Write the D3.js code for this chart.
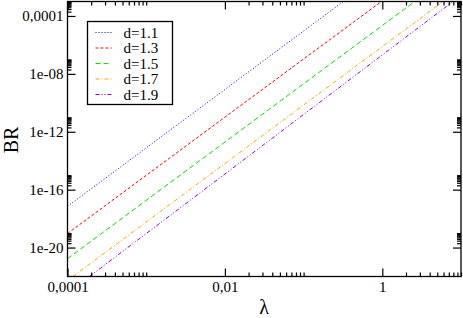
<!DOCTYPE html>
<meta charset="utf-8">
<style>
    body { margin: 0; background: #fff; }
    text { font-family: "Liberation Serif", "DejaVu Serif", serif; fill: #000; }
    .axis path { display: none; }
    .axis line { stroke: #000; stroke-width: 1.2; }
    .axis text { font-size: 15px; }
    path.series { fill: none; stroke-width: 1; }
</style>
<body>
<script src="https://cdn.jsdelivr.net/npm/d3@7"></script>
<script>

    // series names and styles
    var labels = ["d=1.1", "d=1.3", "d=1.5", "d=1.7", "d=1.9"];
    var colors = ["#0000ff", "#ff0000", "#00e600", "#ffa500", "#9400d3"];
    var dashes = ["1,2", "3,2", "5,3", "4,2,1,2", "4,2,1,2,1,2"];

    // each series is a straight line in log-log: two points [lambda, BR]
    var d11 = [[1e-4, 7e-18], [0.32, 1e-3]];
    var d13 = [[1e-4, 9.3e-20], [0.975, 1e-3]];
    var d15 = [[1e-4, 1.7e-21], [2.58, 1e-3]];
    var d17 = [[1.17e-4, 1e-22], [5.9, 1e-3]];
    var d19 = [[1.9e-4, 1e-22], [7.9, 1e-3]];
    var series = [d11, d13, d15, d17, d19];

    // ticks
    var xMajor = [1e-4, 1e-2, 1];
    var xLabels = ["0,0001", "0,01", "1"];
    var yMajor = [1e-20, 1e-16, 1e-12, 1e-8, 1e-4];
    var yLabels = ["1e-20", "1e-16", "1e-12", "1e-08", "0,0001"];

    var W = 463, H = 318;
    var margin = {top: 1.5, right: 2, bottom: 41.5, left: 67.5},
        width = W - margin.left - margin.right,
        height = H - margin.top - margin.bottom;

    var x = d3.scaleLog().domain([1e-4, 10]).range([0, width]);
    var y = d3.scaleLog().domain([1e-22, 1e-3]).range([height, 0]);

    function minors(major) {
        var out = [];
        major.forEach(function(v) {
            for (var m = 2; m <= 10; m++) out.push(v * m);
        });
        return out;
    }

    var svg = d3.select("body").append("svg")
        .attr("width", W)
        .attr("height", H);

    var g = svg.append("g")
        .attr("transform", "translate(" + margin.left + "," + margin.top + ")");

    g.append("clipPath").attr("id", "clip")
        .append("rect").attr("width", width).attr("height", height);

    var line = d3.line()
        .x(function(d) { return x(d[0]); })
        .y(function(d) { return y(d[1]); });

    g.append("g").attr("clip-path", "url(#clip)")
        .selectAll("path")
        .data(series)
        .enter().append("path")
        .attr("class", "series")
        .attr("d", line)
        .attr("stroke", function(d, i) { return colors[i]; })
        .attr("stroke-dasharray", function(d, i) { return dashes[i]; });

    // axes, ticks pointing inwards
    function fmt(list, labs) {
        return function(d) { return labs[list.indexOf(d)]; };
    }

    g.append("g").attr("class", "x axis")
        .attr("transform", "translate(0," + height + ")")
        .call(d3.axisBottom(x).tickValues(xMajor).tickSize(-8).tickPadding(5)
            .tickFormat(fmt(xMajor, xLabels)));
    g.append("g").attr("class", "x axis")
        .attr("transform", "translate(0," + height + ")")
        .call(d3.axisBottom(x).tickValues(minors(xMajor)).tickSize(-4).tickFormat(""));
    g.append("g").attr("class", "x axis")
        .call(d3.axisTop(x).tickValues(xMajor).tickSize(-8).tickFormat(""));
    g.append("g").attr("class", "x axis")
        .call(d3.axisTop(x).tickValues(minors(xMajor)).tickSize(-4).tickFormat(""));

    g.append("g").attr("class", "y axis")
        .call(d3.axisLeft(y).tickValues(yMajor).tickSize(-8).tickPadding(4)
            .tickFormat(fmt(yMajor, yLabels)));
    g.append("g").attr("class", "y axis")
        .call(d3.axisLeft(y).tickValues(minors(yMajor)).tickSize(-4).tickFormat(""));
    g.append("g").attr("class", "y axis")
        .attr("transform", "translate(" + width + ",0)")
        .call(d3.axisRight(y).tickValues(yMajor).tickSize(-8).tickFormat(""));
    g.append("g").attr("class", "y axis")
        .attr("transform", "translate(" + width + ",0)")
        .call(d3.axisRight(y).tickValues(minors(yMajor)).tickSize(-4).tickFormat(""));

    // frame
    g.append("rect")
        .attr("width", width).attr("height", height)
        .attr("fill", "none").attr("stroke", "#000").attr("stroke-width", 1.3);

    // axis titles
    svg.append("text")
        .attr("x", 264).attr("y", 314)
        .attr("text-anchor", "middle")
        .style("font-size", "20px")
        .text("λ");

    svg.append("text")
        .attr("transform", "translate(17.5,140) rotate(-90)")
        .attr("text-anchor", "middle")
        .style("font-size", "20px")
        .text("BR");

    // legend
    var legend = svg.append("g").attr("transform", "translate(87.5,21.5)");
    legend.append("rect")
        .attr("width", 85).attr("height", 83)
        .attr("fill", "#fff").attr("stroke", "#000").attr("stroke-width", 1.3);

    var item = legend.selectAll("g.item")
        .data(labels)
        .enter().append("g")
        .attr("class", "item")
        .attr("transform", function(d, i) { return "translate(0," + (11 + i * 15.5) + ")"; });

    item.append("line")
        .attr("x1", 8).attr("x2", 24)
        .attr("stroke", function(d, i) { return colors[i]; })
        .attr("stroke-dasharray", function(d, i) { return dashes[i]; })
        .attr("stroke-width", 1);

    item.append("text")
        .attr("x", 36).attr("dy", "0.35em")
        .style("font-size", "15px")
        .text(function(d) { return d; });

</script>
</body>
